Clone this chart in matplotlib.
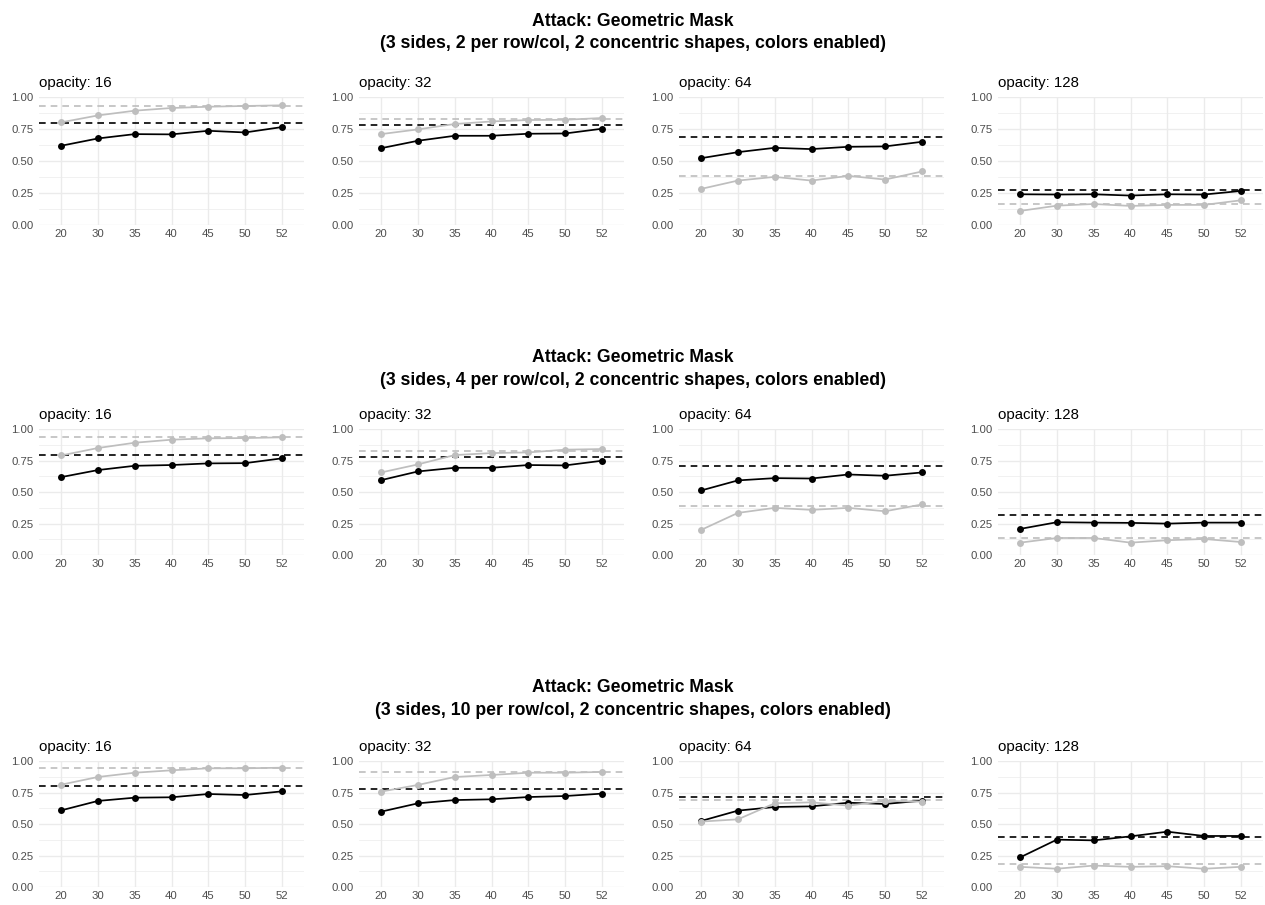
#!/usr/bin/env python3
"""Geometric mask attack: accuracy per size, faceted by opacity."""

import numpy as np
import matplotlib
matplotlib.use("Agg")
import matplotlib.pyplot as plt
from matplotlib.ticker import MultipleLocator

plt.rcParams.update({
    "font.family": ["Liberation Sans", "DejaVu Sans"],
    "font.size": 9,
})

sizes = ["20", "30", "35", "40", "45", "50", "52"]
opacities = [16, 32, 64, 128]
per_row_col = [2, 4, 10]

# black series (one list per opacity) for each grid density
black_2 = [
    [0.619, 0.676, 0.710, 0.708, 0.736, 0.723, 0.765],
    [0.600, 0.658, 0.697, 0.697, 0.713, 0.715, 0.752],
    [0.522, 0.569, 0.603, 0.593, 0.611, 0.614, 0.650],
    [0.240, 0.238, 0.240, 0.230, 0.240, 0.238, 0.266],
]
gray_2 = [
    [0.802, 0.856, 0.893, 0.914, 0.924, 0.930, 0.935],
    [0.710, 0.747, 0.789, 0.809, 0.820, 0.822, 0.836],
    [0.282, 0.347, 0.376, 0.347, 0.384, 0.355, 0.418],
    [0.110, 0.151, 0.164, 0.149, 0.157, 0.157, 0.193],
]
black_ref_2 = [0.796, 0.783, 0.689, 0.277]
gray_ref_2 = [0.932, 0.830, 0.384, 0.162]

black_4 = [
    [0.618, 0.674, 0.708, 0.714, 0.727, 0.729, 0.767],
    [0.594, 0.663, 0.692, 0.692, 0.714, 0.711, 0.748],
    [0.512, 0.592, 0.610, 0.607, 0.639, 0.629, 0.655],
    [0.207, 0.260, 0.257, 0.255, 0.249, 0.257, 0.257],
]
gray_4 = [
    [0.790, 0.849, 0.891, 0.915, 0.926, 0.928, 0.934],
    [0.655, 0.719, 0.793, 0.809, 0.814, 0.836, 0.841],
    [0.199, 0.334, 0.374, 0.358, 0.374, 0.347, 0.401],
    [0.098, 0.135, 0.135, 0.098, 0.117, 0.127, 0.103],
]
black_ref_4 = [0.796, 0.780, 0.703, 0.318]
gray_ref_4 = [0.934, 0.828, 0.390, 0.138]

black_10 = [
    [0.608, 0.683, 0.709, 0.712, 0.738, 0.730, 0.759],
    [0.598, 0.664, 0.690, 0.696, 0.714, 0.722, 0.741],
    [0.524, 0.606, 0.635, 0.640, 0.669, 0.659, 0.685],
    [0.235, 0.376, 0.370, 0.402, 0.439, 0.405, 0.405],
]
gray_10 = [
    [0.812, 0.873, 0.907, 0.926, 0.942, 0.942, 0.947],
    [0.757, 0.810, 0.873, 0.889, 0.907, 0.907, 0.913],
    [0.519, 0.537, 0.664, 0.672, 0.646, 0.683, 0.677],
    [0.160, 0.145, 0.170, 0.160, 0.165, 0.145, 0.160],
]
black_ref_10 = [0.802, 0.775, 0.712, 0.397]
gray_ref_10 = [0.942, 0.910, 0.693, 0.185]

rows = [
    (black_2, gray_2, black_ref_2, gray_ref_2),
    (black_4, gray_4, black_ref_4, gray_ref_4),
    (black_10, gray_10, black_ref_10, gray_ref_10),
]

W, H = 1265, 905
fig = plt.figure(figsize=(W / 100, H / 100), dpi=100)

col_left = [39, 359, 679, 998]
panel_w = 265
row_top = [97, 429, 761]
row_h = [128, 126, 126]
title_y = [21, 357, 687]

GRAY = "#BEBEBE"
GRID = "#EBEBEB"

for r, (blk, gry, bref, gref) in enumerate(rows):
    fig.text(0.5, 1 - title_y[r] / H, "Attack: Geometric Mask",
             ha="center", va="center", fontsize=12.7, fontweight="bold")
    fig.text(0.5, 1 - (title_y[r] + 23) / H,
             f"(3 sides, {per_row_col[r]} per row/col, 2 concentric shapes, colors enabled)",
             ha="center", va="center", fontsize=12.7, fontweight="bold")
    for c, op in enumerate(opacities):
        ax = fig.add_axes([col_left[c] / W, 1 - (row_top[r] + row_h[r]) / H,
                           panel_w / W, row_h[r] / H])
        x = np.arange(len(sizes))
        ax.axhline(bref[c], color="black", linestyle=(0, (4, 3)), linewidth=1.2, zorder=2)
        ax.axhline(gref[c], color=GRAY, linestyle=(0, (4, 3)), linewidth=1.2, zorder=2)
        ax.plot(x, blk[c], color="black", marker="o", markersize=5,
                markeredgewidth=0, linewidth=1.25, zorder=3)
        ax.plot(x, gry[c], color=GRAY, marker="o", markersize=5,
                markeredgewidth=0, linewidth=1.25, zorder=4)
        ax.set_xlim(-0.6, len(sizes) - 0.4)
        ax.set_xticks(x)
        ax.set_xticklabels(sizes)
        ax.yaxis.set_minor_locator(MultipleLocator(0.125))
        ax.set_ylim(0, 1)
        ax.set_yticks([0, 0.25, 0.5, 0.75, 1.0])
        ax.set_yticklabels(["0.00", "0.25", "0.50", "0.75", "1.00"])
        ax.tick_params(axis="both", which="both", length=0, labelsize=8.2,
                       labelcolor="#4D4D4D")
        ax.tick_params(axis="x", pad=3)
        ax.tick_params(axis="y", pad=4)
        ax.grid(which="major", color=GRID, linewidth=1.0, zorder=0)
        ax.grid(which="minor", axis="y", color=GRID, linewidth=0.5, zorder=0)
        ax.set_axisbelow(True)
        for s in ax.spines.values():
            s.set_visible(False)
        ax.set_title(f"opacity: {op}", loc="left", fontsize=10.8, pad=7)

plt.savefig("out.png", dpi=100)
